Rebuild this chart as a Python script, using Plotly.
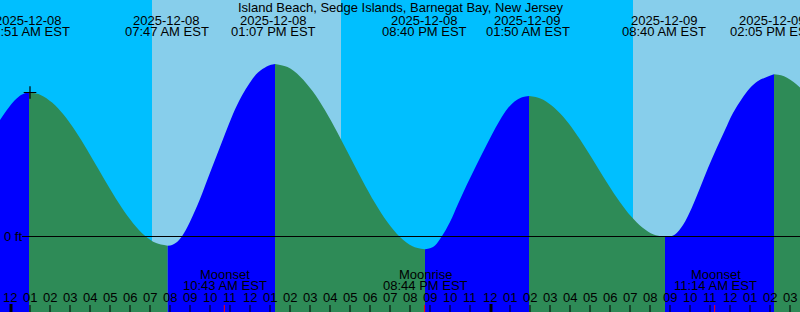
import plotly.graph_objects as go

# ---------------- data ----------------
TITLE = "Island Beach, Sedge Islands, Barnegat Bay, New Jersey"

# tide curve: hours since 2025-12-08 00:00 EST, height in ft
CURVE_T = [-0.5, -0.1, 0.25, 0.6, 0.95,
           1.528, 2.106, 2.684, 3.262, 3.840, 4.418, 4.996, 5.574, 6.152, 6.729, 7.307, 7.885,
           8.1, 8.3, 8.585, 9.0, 9.5, 9.9, 10.335, 10.75, 11.15, 11.585, 12.0, 12.4, 12.835, 13.05, 13.25,
           13.875, 14.5, 15.125, 15.75, 16.375, 17.0, 17.625, 18.25, 18.875, 19.5, 20.125, 20.75,
           21.0, 21.25, 21.585, 22.0, 22.4, 22.835, 23.25, 23.65, 24.085, 24.5, 24.9, 25.335, 25.65, 25.95,
           26.517, 27.083, 27.65, 28.217, 28.783, 29.35, 29.917, 30.483, 31.05, 31.617, 32.183, 32.75,
           33.0, 33.25, 33.65, 34.085, 34.5, 34.9, 35.335, 35.75, 36.15, 36.585, 37.0, 37.4, 37.835, 38.2,
           38.55, 38.85, 39.175, 39.5]
CURVE_H = [1.942, 2.133, 2.275, 2.367, 2.403,
           2.360, 2.232, 2.028, 1.764, 1.456, 1.125, 0.794, 0.486, 0.222, 0.018, -0.110, -0.153,
           -0.142, -0.105, -0.003, 0.247, 0.625, 0.975, 1.350, 1.708, 2.042, 2.342, 2.567, 2.733, 2.833, 2.862, 2.875,
           2.823, 2.668, 2.423, 2.103, 1.731, 1.331, 0.931, 0.559, 0.239, -0.007, -0.161, -0.213,
           -0.197, -0.150, 0.000, 0.242, 0.542, 0.858, 1.142, 1.408, 1.692, 1.942, 2.142, 2.275, 2.325, 2.342,
           2.302, 2.184, 1.998, 1.754, 1.471, 1.167, 0.863, 0.579, 0.336, 0.149, 0.032, -0.008,
           0.000, 0.033, 0.192, 0.475, 0.808, 1.142, 1.475, 1.775, 2.058, 2.292, 2.475, 2.592, 2.658, 2.703,
           2.687, 2.645, 2.573, 2.483]

# tide extremes (labels at top)
TIDE_T = [0.85, 7.783, 13.117, 20.667, 25.833, 32.667, 38.083]
TIDE_DATE = ["2025-12-08", "2025-12-08", "2025-12-08", "2025-12-08",
             "2025-12-09", "2025-12-09", "2025-12-09"]
TIDE_TIME = ["12:51 AM EST", "07:47 AM EST", "01:07 PM EST", "08:40 PM EST",
             "01:50 AM EST", "08:40 AM EST", "02:05 PM EST"]

# moon events
MOON_T = [10.717, 20.733, 35.233]
MOON_NAME = ["Moonset", "Moonrise", "Moonset"]
MOON_TIME = ["10:43 AM EST", "08:44 PM EST", "11:14 AM EST"]

# daylight intervals (sunrise, sunset) in hours
DAY_START = [7.1, 31.15]
DAY_END = [16.55, 40.55]

# current time mark
NOW_T = 1.0
NOW_H = 2.40

# hour axis
HOURS = list(range(0, 40))
HOUR_LABELS = ["12", "01", "02", "03", "04", "05", "06", "07", "08", "09", "10", "11",
               "12", "01", "02", "03", "04", "05", "06", "07", "08", "09", "10", "11",
               "12", "01", "02", "03", "04", "05", "06", "07", "08", "09", "10", "11",
               "12", "01", "02", "03"]
MIDNIGHTS = [0, 24]

# ---------------- style ----------------
W, H = 800, 312
NIGHT = "#00BFFF"
DAY = "#87CEEB"
RISE = "#0000FF"
FALL = "#2E8B57"
FONT = dict(family="Liberation Sans, Arial, sans-serif", size=13, color="black")
ZERO_PX = 236.5
PX_PER_FT = 60.0
Y_MAX = ZERO_PX / PX_PER_FT
Y_MIN = -(H - ZERO_PX) / PX_PER_FT
X_MIN, X_MAX = -0.5, 39.5
LABEL_DX = 0.05  # labels sit ~1px right of their time


def py(px_from_top):
    """paper y from pixel distance from top"""
    return 1 - px_from_top / H


fig = go.Figure()

# split curve into monotonic segments
segments = []
start = 0
for i in range(1, len(CURVE_T) - 1):
    d1 = CURVE_H[i] - CURVE_H[i - 1]
    d2 = CURVE_H[i + 1] - CURVE_H[i]
    if d1 * d2 < 0:
        segments.append((start, i))
        start = i
segments.append((start, len(CURVE_T) - 1))

for a, b in segments:
    xs = CURVE_T[a:b + 1]
    ys = CURVE_H[a:b + 1]
    color = RISE if ys[-1] > ys[0] else FALL
    fig.add_trace(go.Scatter(x=[xs[0], xs[-1]], y=[Y_MIN, Y_MIN], mode="lines",
                             line=dict(width=0, color=color), hoverinfo="skip",
                             showlegend=False))
    fig.add_trace(go.Scatter(x=xs, y=ys, mode="lines", fill="tonexty",
                             fillcolor=color,
                             line=dict(width=0, color=color, shape="spline", smoothing=1),
                             hoverinfo="skip", showlegend=False))

# now marker
fig.add_trace(go.Scatter(x=[NOW_T], y=[NOW_H], mode="markers",
                         marker=dict(symbol="cross-thin", size=9,
                                     line=dict(width=1.2, color="black")),
                         hoverinfo="skip", showlegend=False))

shapes = []
for s, e in zip(DAY_START, DAY_END):
    shapes.append(dict(type="rect", xref="x", yref="paper", x0=s, x1=e, y0=0, y1=1,
                       fillcolor=DAY, line=dict(width=0), layer="below"))
# zero line
shapes.append(dict(type="line", xref="paper", yref="y", x0=22 / W, x1=1, y0=0, y1=0,
                   line=dict(color="black", width=1.2)))
# hour ticks
for h in HOURS:
    if h in MIDNIGHTS:
        shapes.append(dict(type="line", xref="x", yref="paper", x0=h + 0.05, x1=h + 0.05,
                           y0=0, y1=py(304), line=dict(color="black", width=3)))
    else:
        shapes.append(dict(type="line", xref="x", yref="paper", x0=h, x1=h,
                           y0=0, y1=py(305), line=dict(color="black", width=1)))
for t in MOON_T:
    shapes.append(dict(type="line", xref="x", yref="paper", x0=t, x1=t,
                       y0=0, y1=py(305), line=dict(color="red", width=1)))

ann = []
ann.append(dict(text=TITLE, xref="paper", yref="paper", x=0.5, y=py(7.5),
                xanchor="center", yanchor="middle", showarrow=False, font=FONT))
for t, d, tm in zip(TIDE_T, TIDE_DATE, TIDE_TIME):
    ann.append(dict(text=d, xref="x", yref="paper", x=t + LABEL_DX, y=py(20),
                    xanchor="center", yanchor="middle", showarrow=False, font=FONT))
    ann.append(dict(text=tm, xref="x", yref="paper", x=t + LABEL_DX, y=py(31.7),
                    xanchor="center", yanchor="middle", showarrow=False, font=FONT))
for t, n, tm in zip(MOON_T, MOON_NAME, MOON_TIME):
    ann.append(dict(text=n, xref="x", yref="paper", x=t + LABEL_DX, y=py(274),
                    xanchor="center", yanchor="middle", showarrow=False, font=FONT))
    ann.append(dict(text=tm, xref="x", yref="paper", x=t + LABEL_DX, y=py(285.7),
                    xanchor="center", yanchor="middle", showarrow=False, font=FONT))
for h, lab in zip(HOURS, HOUR_LABELS):
    ann.append(dict(text=lab, xref="x", yref="paper", x=h, y=py(297.7),
                    xanchor="center", yanchor="middle", showarrow=False, font=FONT))
ann.append(dict(text="0 ft", xref="paper", yref="y", x=2 / W, y=0,
                xanchor="left", yanchor="middle", showarrow=False, font=FONT))

fig.update_layout(
    width=W, height=H, margin=dict(l=0, r=0, t=0, b=0, pad=0),
    paper_bgcolor=NIGHT, plot_bgcolor=NIGHT,
    xaxis=dict(range=[X_MIN, X_MAX], visible=False, fixedrange=True),
    yaxis=dict(range=[Y_MIN, Y_MAX], visible=False, fixedrange=True),
    shapes=shapes, annotations=ann, showlegend=False,
)

fig.write_html("out.html", config={"displayModeBar": False})
